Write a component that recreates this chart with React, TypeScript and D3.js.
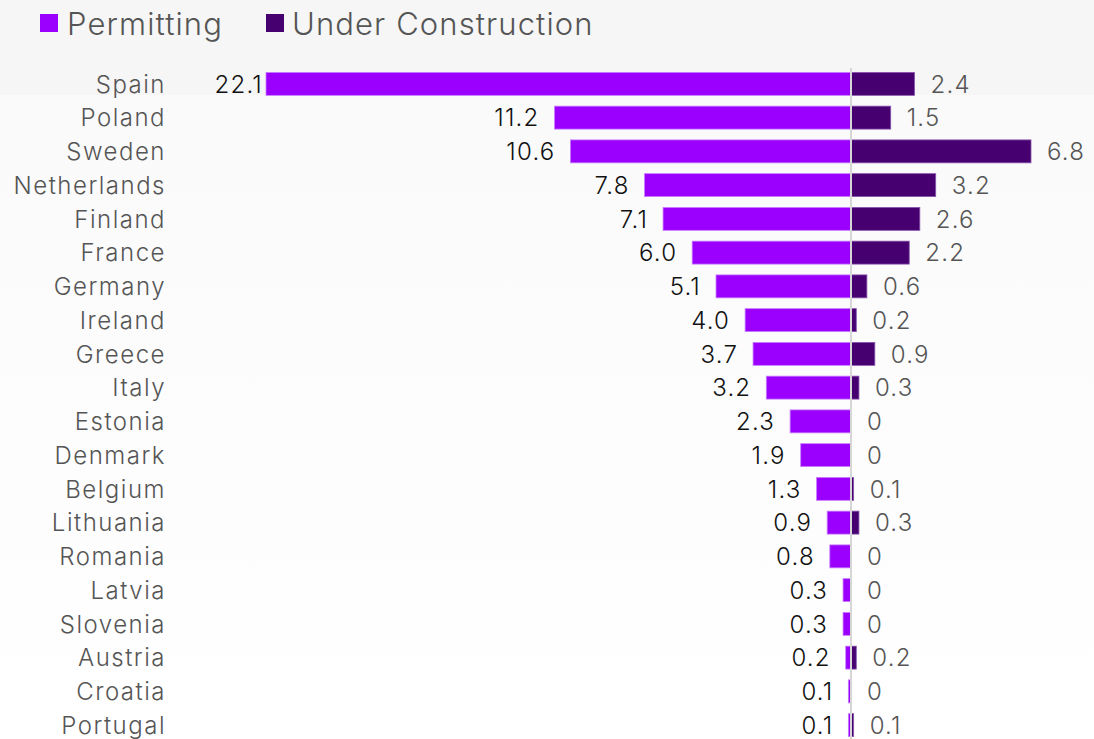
import React from "react";
import * as d3 from "d3";

const countries = ["Spain","Poland","Sweden","Netherlands","Finland","France","Germany","Ireland","Greece","Italy","Estonia","Denmark","Belgium","Lithuania","Romania","Latvia","Slovenia","Austria","Croatia","Portugal"];
const permitting = [22.1,11.2,10.6,7.8,7.1,6.0,5.1,4.0,3.7,3.2,2.3,1.9,1.3,0.9,0.8,0.3,0.3,0.2,0.1,0.1];
const underConstruction = [2.4,1.5,6.8,3.2,2.6,2.2,0.6,0.2,0.9,0.3,0,0,0.1,0.3,0,0,0,0.2,0,0.1];
const seriesNames = ["Permitting","Under Construction"];

const W = 1094, H = 739;
const C_PERMIT = "#9b00fe";
const C_UC = "#46006f";
const FONT = "Inter, 'Noto Sans', sans-serif";

export default function App() {
  const x = d3.scaleLinear().domain([-22.1, 6.8]).range([266, 1031]);
  const y = d3.scaleBand<string>().domain(countries).range([67, 742]).paddingInner(0.32).paddingOuter(0.16);
  const bw = y.bandwidth();
  const fmt = (v: number) => (v === 0 ? "0" : d3.format(".1f")(v));
  const x0 = x(0);
  const labelMinRight = 263;
  return (
    <svg width={W} height={H} style={{ position: "absolute", left: 0, top: 0 }} fontFamily={FONT}>
      <defs>
        <linearGradient id="bg" x1="0" y1="0" x2="0" y2="1">
          <stop offset="0" stopColor="#f9f9f9" />
          <stop offset="1" stopColor="#ffffff" />
        </linearGradient>
      </defs>
      <rect x={0} y={0} width={W} height={H} fill="url(#bg)" />
      <rect x={0} y={0} width={W} height={95} fill="#f6f6f6" />
      {/* legend */}
      <g>
        <rect x={40} y={14} width={18} height={18} fill={C_PERMIT} />
        <text x={67} y={35} fontSize={31} fontWeight={300} fill="#555" letterSpacing={1.1}>{seriesNames[0]}</text>
        <rect x={266} y={14} width={18} height={18} fill={C_UC} />
        <text x={292} y={35} fontSize={31} fontWeight={300} fill="#555" letterSpacing={1.1}>{seriesNames[1]}</text>
      </g>
      {countries.map((c, i) => {
        const yc = (y(c) as number) + bw / 2;
        const p = permitting[i];
        const u = underConstruction[i];
        return (
          <g key={c}>
            <text x={166} y={yc} dy="0.36em" textAnchor="end" fontSize={24} fontWeight={300} fill="#555" letterSpacing={1.5}>{c}</text>
            <rect x={x(-p)} y={y(c)} width={x0 - x(-p)} height={bw} fill={C_PERMIT} stroke="#c77dff" strokeWidth={0.8} />
            {u > 0 && <rect x={x0} y={y(c)} width={x(u) - x0} height={bw} fill={C_UC} stroke="#8a55b0" strokeWidth={0.8} />}
            <text x={Math.max(x(-p) - 15, labelMinRight)} y={yc} dy="0.36em" textAnchor="end" fontSize={24} fontWeight={300} fill="#111" letterSpacing={1.2}>{fmt(p)}</text>
            <text x={x(u) + 16} y={yc} dy="0.36em" textAnchor="start" fontSize={24} fontWeight={300} fill="#555" letterSpacing={1.2}>{fmt(u)}</text>
          </g>
        );
      })}
      <line x1={x0} x2={x0} y1={68} y2={H} stroke="#d6d6d6" strokeWidth={2} />
    </svg>
  );
}
